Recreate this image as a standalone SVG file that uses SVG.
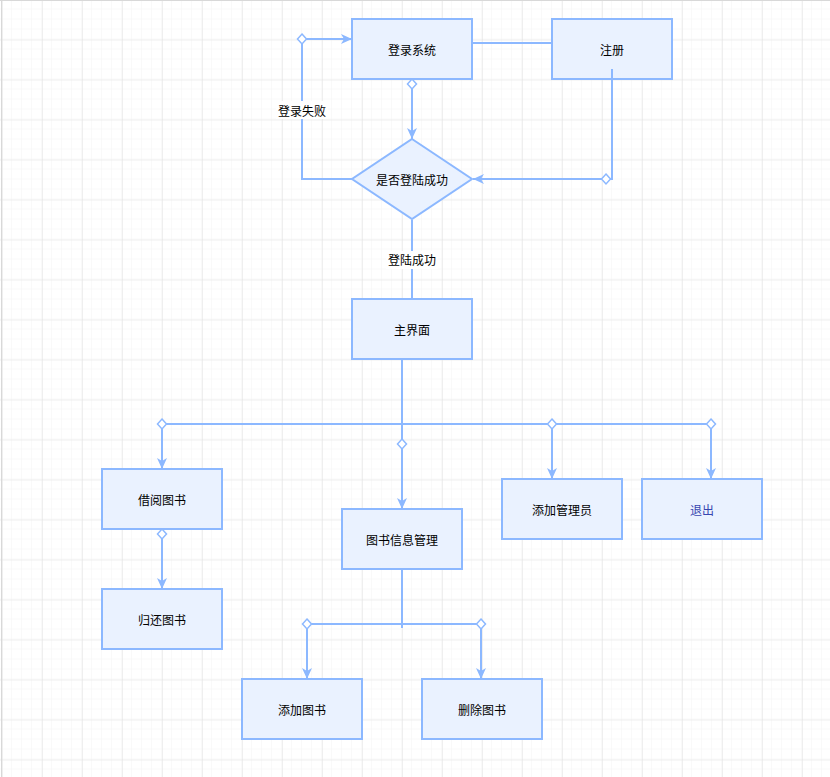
<svg xmlns="http://www.w3.org/2000/svg" xmlns:xlink="http://www.w3.org/1999/xlink" width="830" height="777" viewBox="0 0 830 777">
<style>
.node rect, .node polygon { fill: #eaf2ff; stroke: #8cb8ff; stroke-width: 2; }
.node text, .lbl { font-family: "Noto Sans CJK SC", "Liberation Sans", sans-serif; font-size: 12px; fill: #000; text-anchor: middle; dominant-baseline: central; }
.edge { fill: none; stroke: #8cb8ff; stroke-width: 2; }
.arr { marker-end: url(#arrow); }
</style>
<defs>
<pattern id="minor" patternUnits="userSpaceOnUse" x="2" y="-0.5" width="10" height="10">
<path d="M10,0 V10 M0,10 H10" fill="none" stroke="#f3f3f3" stroke-width="1"/>
</pattern>
<pattern id="major" patternUnits="userSpaceOnUse" x="2" y="-0.5" width="40" height="40">
<path d="M0,0 V40 M0,0 H40" fill="none" stroke="#e0e0e0" stroke-width="1"/>
</pattern>
<marker id="arrow" viewBox="0 0 11 10" refX="11" refY="5" markerWidth="11" markerHeight="10" markerUnits="userSpaceOnUse" orient="auto">
<path d="M0,0 L11,5 L0,10 L3,5 Z" fill="#8cb8ff"/>
</marker>
<polygon id="dm" points="0,-5 4.5,0 0,5 -4.5,0" fill="#ffffff" stroke="#8cb8ff" stroke-width="1.5"/>
</defs>
<rect width="830" height="777" fill="#ffffff"/>
<rect width="830" height="777" fill="url(#minor)"/>
<rect width="830" height="777" fill="url(#major)"/>
<line x1="1.5" y1="0" x2="1.5" y2="777" stroke="#d8d8d8"/>
<line x1="0" y1="0.5" x2="830" y2="0.5" stroke="#d8d8d8"/>

<g id="login" class="node"><rect x="352" y="19" width="120" height="60"/><text x="412" y="49">登录系统</text></g>
<g id="register" class="node"><rect x="552" y="19" width="120" height="60"/><text x="612" y="49">注册</text></g>
<g id="check" class="node"><polygon points="412,139 472,179 412,219 352,179"/><text x="412" y="179">是否登陆成功</text></g>
<g id="main" class="node"><rect x="352" y="299" width="120" height="60"/><text x="412" y="329">主界面</text></g>
<g id="borrow" class="node"><rect x="102" y="469" width="120" height="60"/><text x="162" y="499">借阅图书</text></g>
<g id="return" class="node"><rect x="102" y="589" width="120" height="60"/><text x="162" y="619">归还图书</text></g>
<g id="bookmgmt" class="node"><rect x="342" y="509" width="120" height="60"/><text x="402" y="539">图书信息管理</text></g>
<g id="addadmin" class="node"><rect x="502" y="479" width="120" height="60"/><text x="562" y="509">添加管理员</text></g>
<g id="exit" class="node"><rect x="642" y="479" width="120" height="60"/><text x="702" y="509" style="fill:#3846b0">退出</text></g>
<g id="addbook" class="node"><rect x="242" y="679" width="120" height="60"/><text x="302" y="709">添加图书</text></g>
<g id="delbook" class="node"><rect x="422" y="679" width="120" height="60"/><text x="482" y="709">删除图书</text></g>

<g id="connectors">
<path class="edge" d="M473,43 H551"/>
<path class="edge arr" d="M612,69 V179 H473"/>
<use xlink:href="#dm" href="#dm" x="606" y="179"/>
<path class="edge arr" d="M412,88 V139"/>
<use xlink:href="#dm" href="#dm" x="412" y="84"/>
<path class="edge arr" d="M352,179 H302 V39 H352"/>
<use xlink:href="#dm" href="#dm" x="302" y="39"/>
<rect x="276" y="101" width="52" height="18" fill="#ffffff"/>
<text class="lbl" x="302" y="110">登录失败</text>
<path class="edge" d="M412,220 V298"/>
<rect x="386" y="251" width="52" height="18" fill="#ffffff"/>
<text class="lbl" x="412" y="259">登陆成功</text>
<path class="edge" d="M402,360 V440"/>
<path class="edge arr" d="M402,448 V509"/>
<use xlink:href="#dm" href="#dm" x="402" y="444"/>
<path class="edge" d="M162,424 H711"/>
<path class="edge arr" d="M162,428 V469"/>
<path class="edge arr" d="M552,428 V479"/>
<path class="edge arr" d="M711,428 V479"/>
<use xlink:href="#dm" href="#dm" x="162" y="424"/>
<use xlink:href="#dm" href="#dm" x="552" y="424"/>
<use xlink:href="#dm" href="#dm" x="711" y="424"/>
<path class="edge arr" d="M162,538 V589"/>
<use xlink:href="#dm" href="#dm" x="162" y="534"/>
<path class="edge" d="M402,570 V628"/>
<path class="edge" d="M307,624 H481"/>
<path class="edge arr" d="M307,628 V679"/>
<path class="edge arr" d="M481,628 V679"/>
<use xlink:href="#dm" href="#dm" x="307" y="624"/>
<use xlink:href="#dm" href="#dm" x="481" y="624"/>
</g>
</svg>
